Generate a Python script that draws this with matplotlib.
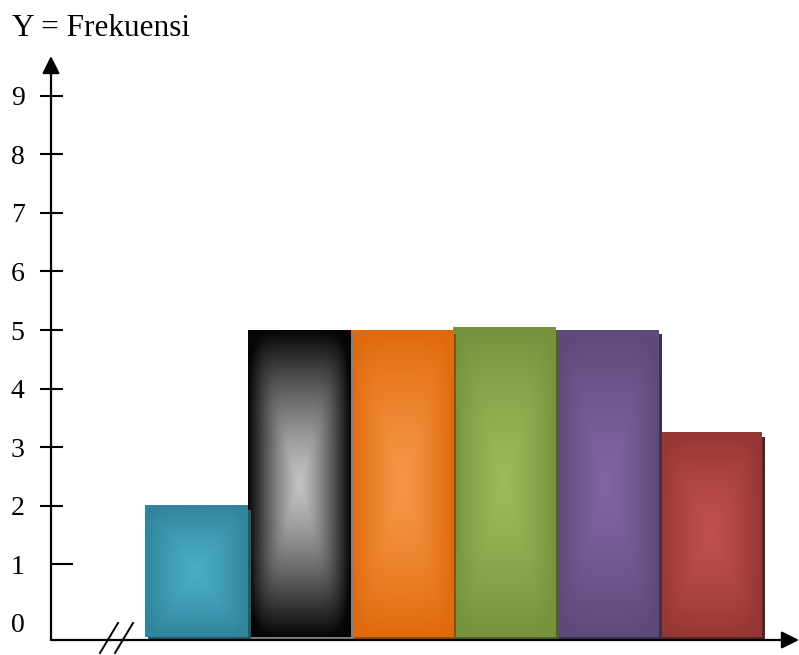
import numpy as np
import matplotlib
matplotlib.use('Agg')
import matplotlib.pyplot as plt
from matplotlib.patches import Rectangle
from matplotlib import transforms
from matplotlib.colors import to_rgb

# data
freq = [2, 5, 5, 5.05, 5, 3.25]
y_ticks = [0, 1, 2, 3, 4, 5, 6, 7, 8, 9]
y_label = 'Y = Frekuensi'

# bar colours: centre, edge, shadow
centre_colors = ['#4bacc6', '#c2c2c2', '#f79646', '#9bbb59', '#8064a2', '#c0504d']
edge_colors = ['#31849b', '#060606', '#e06a0c', '#76923c', '#5f497a', '#953735']
shadow_colors = ['#215a69', '#808080', '#9a4a08', '#4f6228', '#3f3151', '#5e2220']

W, H = 799, 655
fig = plt.figure(figsize=(W / 100, H / 100), dpi=100)
fig.patch.set_facecolor('white')

# axes: y axis at x=51px, x axis at y=640px, arrow tips at top 56px / right 799px
ax = fig.add_axes([51 / W, (H - 640) / H, (W - 51) / W, (640 - 56) / H])
ax.set_facecolor('none')
px_y = 58.6    # pixels per frequency unit
px_x = 102.8   # pixels per bar
y_min = -(640 - 623) / px_y
y_max = (623 - 56) / px_y
x_min = -0.5 - (145 - 51) / px_x
x_max = -0.5 + (W - 145) / px_x
for s in ax.spines.values():
    s.set_visible(False)
ax.set_xticks([])

serif = ['Liberation Serif', 'DejaVu Serif']
ax.set_yticks(y_ticks)
ax.set_yticklabels([str(t) for t in y_ticks], fontsize=20, family=serif)
ax.tick_params(axis='y', length=0, pad=19)

# bars with a "pillow" gradient, drawn right to left so each shadow overlaps the next bar
base = y_min + 3 / px_y
n = len(freq)
gy, gx = np.mgrid[-1:1:300j, -1:1:150j]
t = np.clip((np.abs(gx) ** 6 + np.abs(gy) ** 6) ** (1 / 6), 0, 1)
wgt = 1 - t ** 1.3
shadow_tr = transforms.offset_copy(ax.transData, fig=fig, x=3, y=-4, units='dots')
for i in reversed(range(n)):
    z = 2 + (n - i) * 2
    left, right = i - 0.5, i + 0.5
    ax.add_patch(Rectangle((left, base), 1, freq[i] - base, transform=shadow_tr,
                           facecolor=shadow_colors[i], edgecolor='none', zorder=z))
    c = np.array(to_rgb(centre_colors[i]))
    e = np.array(to_rgb(edge_colors[i]))
    img = e + (c - e) * wgt[..., None]
    ax.imshow(img, extent=(left, right, base, freq[i]), aspect='auto',
              interpolation='bilinear', zorder=z + 1)
ax.set_xlim(x_min, x_max)
ax.set_ylim(y_min, y_max)

# axis lines with arrow heads
arrow = dict(arrowstyle='-|>,head_length=0.7,head_width=0.35', color='black', lw=1.6,
             mutation_scale=15, shrinkA=0, shrinkB=0)
ax.annotate('', xy=(0, 1), xytext=(0, 0), xycoords='axes fraction', arrowprops=arrow,
            zorder=30, annotation_clip=False)
ax.annotate('', xy=(1, 0), xytext=(0, 0), xycoords='axes fraction', arrowprops=arrow,
            zorder=30, annotation_clip=False)

# tick marks
aw = W - 51
ytr = ax.get_yaxis_transform()
ax.hlines(y_ticks[2:], -11 / aw, 12 / aw, transform=ytr, color='black', lw=1.5,
          zorder=30, clip_on=False)
ax.hlines(y_ticks[1], 1 / aw, 22 / aw, transform=ytr, color='black', lw=1.5,
          zorder=30, clip_on=False)

# break mark on the x axis
ah = 640 - 56
for dx in (0, 15):
    ax.plot([(100 + dx - 51) / aw, (118 + dx - 51) / aw], [-13 / ah, 17 / ah],
            transform=ax.transAxes, color='black', lw=1.4, clip_on=False, zorder=30)

fig.text(12 / W, 1 - 28 / H, y_label, fontsize=22.5, family=serif, va='center', ha='left')

fig.savefig('out.png', dpi=100, facecolor='white')
